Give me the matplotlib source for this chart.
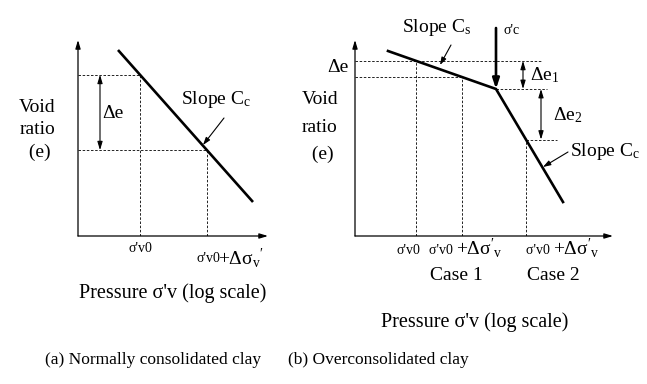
import numpy as np
import matplotlib
matplotlib.use("Agg")
from matplotlib import pyplot as plt

plt.rcParams["font.family"] = ["Liberation Serif", "DejaVu Serif"]
plt.rcParams["mathtext.fontset"] = "custom"
plt.rcParams["mathtext.rm"] = "Liberation Serif"
plt.rcParams["mathtext.it"] = "Liberation Serif:italic"
plt.rcParams["mathtext.bf"] = "Liberation Serif:bold"

# schematic values (log pressure, void ratio) in arbitrary units
nc_logp = [40, 175]          # (a) normally consolidated line
nc_e = [186, 34]
nc_ticks = [62, 129]         # sigma'v0 , sigma'v0 + d sigma

oc_logp = [33, 141, 208]     # (b) recompression -> virgin line
oc_e = [185, 147, 34]
oc_ticks = [61, 107, 171]    # sigma'v0 , case 1 , case 2

W, H = 647, 384
fig = plt.figure(figsize=(W / 100, H / 100), dpi=100)


def panel(x0, y0, w, h):
    ax = fig.add_axes([x0 / W, (H - y0) / H, w / W, h / H])
    ax.set_xlim(0, w)
    ax.set_ylim(0, h)
    ax.axis("off")
    return ax


def axes_arrows(ax, xmax, ymax):
    ap = dict(arrowstyle="-|>,head_length=0.5,head_width=0.15", lw=0.9, color="black",
              shrinkA=0, shrinkB=0)
    ax.annotate("", xy=(0, ymax), xytext=(0, 0), arrowprops=ap)
    ax.annotate("", xy=(xmax, 0), xytext=(0, 0), arrowprops=ap)


def dbl(ax, x, y1, y2):
    ax.annotate("", xy=(x, y1), xytext=(x, y2),
                arrowprops=dict(arrowstyle="<|-|>,head_length=0.5,head_width=0.15",
                                lw=0.8, color="black", shrinkA=0, shrinkB=0))


def pointer(ax, xy, xytext):
    ax.annotate("", xy=xy, xytext=xytext,
                arrowprops=dict(arrowstyle="-|>,head_length=0.45,head_width=0.15",
                                lw=0.8, color="black", shrinkA=0, shrinkB=0))


dash = dict(color="black", lw=0.6, ls=(0, (3, 2)))
big = 14
small = 10
cap = 12.5
pres = 14.5

# ---------------- (a) normally consolidated clay ----------------
ax = panel(78, 236, 195, 200)
axes_arrows(ax, 190, 196)
ax.plot(nc_logp, nc_e, color="black", lw=1.9, solid_capstyle="butt")
e_a = np.interp(nc_ticks, nc_logp, nc_e)
for p, e in zip(nc_ticks, e_a):
    ax.plot([0, p], [e, e], **dash)
    ax.plot([p, p], [0, e], **dash)
dbl(ax, 22, e_a[0], e_a[1])
ax.text(24, 123, "Δe", fontsize=big, va="center", ha="left")
ax.text(138, 136, "Slope C$_\\mathrm{c}$", fontsize=big, va="center", ha="center")
pointer(ax, (125, 91), (146, 118))
for i, t in enumerate(["Void", "ratio", " (e)"]):
    ax.text(-41, 128 - 22 * i, t, fontsize=big, va="center", ha="center")
ax.text(nc_ticks[0], -12, "σ'v0", fontsize=small, va="center", ha="center")
ax.text(142, -23, "σ'v0", fontsize=small, va="center", ha="right")
ax.text(140, -22, "$\\mathrm{+Δσ_v{}^\\prime}$", fontsize=big,
        va="center", ha="left")
ax.text(95, -57, "Pressure σ'v (log scale)", fontsize=pres, va="center", ha="center")
ax.text(75, -124, "(a) Normally consolidated clay", fontsize=cap, va="center", ha="center")

# ---------------- (b) overconsolidated clay ----------------
ax = panel(355, 236, 265, 215)
axes_arrows(ax, 258, 196)
ax.plot(oc_logp, oc_e, color="black", lw=1.9, solid_joinstyle="miter")
e_b = np.interp(oc_ticks, oc_logp, oc_e)
knee_p, knee_e = oc_logp[1], oc_e[1]
ax.plot([0, 186], [e_b[0], e_b[0]], **dash)
ax.plot([oc_ticks[0]] * 2, [0, e_b[0]], **dash)
ax.plot([0, oc_ticks[1]], [e_b[1], e_b[1]], **dash)
ax.plot([oc_ticks[1]] * 2, [0, e_b[1]], **dash)
ax.plot([knee_p, 192], [knee_e, knee_e], **dash)
ax.plot([oc_ticks[2], 202], [e_b[2], e_b[2]], **dash)
ax.plot([oc_ticks[2]] * 2, [0, e_b[2]], **dash)
dbl(ax, 168, e_b[0], knee_e)
dbl(ax, 186, knee_e, e_b[2])
ax.annotate("", xy=(knee_p, knee_e), xytext=(knee_p, 208),
            arrowprops=dict(arrowstyle="-|>,head_length=0.6,head_width=0.2",
                            lw=1.9, color="black", shrinkA=0, shrinkB=0))
ax.text(148, 205, "σ'c", fontsize=small, va="center", ha="left")
ax.text(82, 209, "Slope C$_\\mathrm{s}$", fontsize=big, va="center", ha="center")
pointer(ax, (85, 171), (96, 191))
ax.text(-17, 168, "Δe", fontsize=big, va="center", ha="center")
ax.text(175, 161, "Δe$_\\mathrm{1}$", fontsize=big, va="center", ha="left")
ax.text(198, 121, "Δe$_\\mathrm{2}$", fontsize=big, va="center", ha="left")
ax.text(215, 84, "Slope C$_\\mathrm{c}$", fontsize=big, va="center", ha="left")
pointer(ax, (188, 69), (213, 84))
for i, t in enumerate(["Void", "ratio", " (e)"]):
    ax.text(-35, 136 - 27 * i, t, fontsize=big, va="center", ha="center")
ax.text(53, -14, "σ'v0", fontsize=small, va="center", ha="center")
for cx, case in [(101, "Case 1"), (198, "Case 2")]:
    ax.text(cx, -14, "σ'v0 ", fontsize=small, va="center", ha="right")
    ax.text(cx, -12, "$\\mathrm{+Δσ'_v}$", fontsize=big, va="center", ha="left")
    ax.text(cx, -39, case, fontsize=big, va="center", ha="center")
ax.text(120, -86, "Pressure σ'v (log scale)", fontsize=pres, va="center", ha="center")
ax.text(23, -124, "(b) Overconsolidated clay", fontsize=cap, va="center", ha="center")

fig.savefig("out.png", dpi=100)
